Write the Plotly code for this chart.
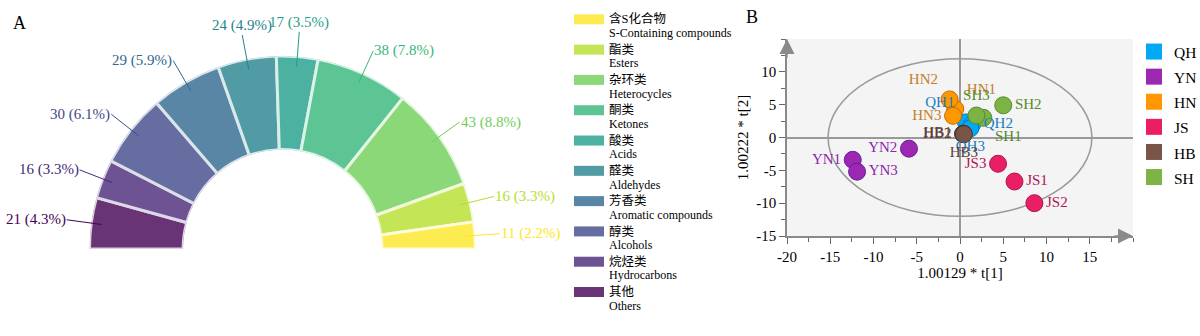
import math
import plotly.graph_objects as go

# ---------------- Panel A data (half donut) ----------------
CATEGORIES_CN = ["其他", "烷烃类", "醇类", "芳香类", "醛类", "酸类", "酮类", "杂环类", "酯类", "含S化合物"]
CATEGORIES_EN = ["Others", "Hydrocarbons", "Alcohols", "Aromatic compounds", "Aldehydes",
                 "Acids", "Ketones", "Heterocycles", "Esters", "S-Containing compounds"]
COUNTS = [21, 16, 30, 29, 24, 17, 38, 43, 16, 11]
COLORS_A = ['#440154', '#482878', '#3e4989', '#31688e', '#26828e',
            '#1f9e89', '#35b779', '#6ece58', '#b5de2b', '#fde725']

# ---------------- Panel B data (score plot) ----------------
GROUPS = ["QH", "YN", "HN", "JS", "HB", "SH"]
GROUP_COLORS = ['#03a9f4', '#9c27b0', '#ff9800', '#e91e63', '#795548', '#7cb342']
GROUP_EDGE = ['#0277bd', '#6a1b9a', '#c66900', '#ad1457', '#4e342e', '#558b2f']
GROUP_TEXT = ['#1a7dc0', '#8e24aa', '#c57d2a', '#ad1457', '#5d4037', '#558b2f']
SAMPLE_LABELS = ["QH1", "QH2", "QH3", "YN1", "YN2", "YN3", "HN1", "HN2", "HN3",
                 "JS1", "JS2", "JS3", "HB1", "HB2", "HB3", "SH1", "SH2", "SH3"]
T1 = [0.7, 1.4, 1.2, -12.4, -5.9, -11.9, -0.55, -1.2, -0.8,
      6.3, 8.6, 4.4, 0.4, 0.35, 0.45, 2.7, 5.0, 1.9]
T2 = [2.3, 2.0, 1.4, -3.4, -1.7, -5.2, 4.35, 5.8, 3.3,
      -6.7, -10.0, -4.0, 0.6, 0.55, 0.5, 3.0, 4.9, 3.35]
X_TICKS = [-20, -15, -10, -5, 0, 5, 10, 15]
X_TICK_TEXT = ["-20", "-15", "-10", "-5", "0", "5", "10", "15"]
Y_TICKS = [-15, -10, -5, 0, 5, 10]
Y_TICK_TEXT = ["-15", "-10", "-5", "0", "5", "10"]
ELLIPSE_A, ELLIPSE_B = 15.25, 12.0

# label placement (style)
LABEL_POS = {"QH1": "top left", "QH2": "middle right", "QH3": "bottom center",
             "YN1": "middle left", "YN2": "middle left", "YN3": "middle right",
             "HN1": "top right", "HN2": "top left", "HN3": "middle left",
             "JS1": "middle right", "JS2": "middle right", "JS3": "middle left",
             "HB1": "middle left", "HB2": "middle left", "HB3": "bottom center",
             "SH1": "bottom right", "SH2": "middle right", "SH3": "top center"}

W, H = 1200, 336
SERIF = "Liberation Serif, Times New Roman, Noto Sans CJK SC, serif"


def hex_rgb(h):
    h = h.lstrip('#')
    return tuple(int(h[i:i + 2], 16) for i in (0, 2, 4))


def blend(h, alpha):
    r, g, b = hex_rgb(h)
    return 'rgb(%d,%d,%d)' % tuple(round(c * alpha + 255 * (1 - alpha)) for c in (r, g, b))


fig = go.Figure()

# ---- half donut geometry ----
A_X0, A_X1 = 88, 477        # px extent of half disc
A_YBOT, A_YTOP = 249, 56    # px (from top)
R = (A_X1 - A_X0) / 2
CX = (A_X0 + A_X1) / 2
HOLE = 0.515

total = 2 * sum(COUNTS)
start = 180.0
mids, widths = [], []
for c in COUNTS:
    w = c / total * 360
    mids.append(start - w / 2)
    widths.append(w)
    start -= w

for i in range(len(COUNTS)):
    fig.add_trace(go.Barpolar(
        r=[1], theta=[mids[i]], width=[widths[i]], base=0,
        marker=dict(color=blend(COLORS_A[i], 0.8),
                    line=dict(color=blend(COLORS_A[i], 0.18), width=3)),
        name=CATEGORIES_EN[i], showlegend=False, subplot='polar',
        hovertext='%s %s: %d' % (CATEGORIES_CN[i], CATEGORIES_EN[i], COUNTS[i]), hoverinfo='text'))

# legend entries for panel A (wide rectangular keys), S-containing first
for i in list(range(len(COUNTS)))[::-1]:
    name = ('<span style="font-size:12.5px">%s</span><br>'
            '<span style="font-size:12px">%s</span>') % (CATEGORIES_CN[i], CATEGORIES_EN[i])
    fig.add_trace(go.Scatter(
        x=[None], y=[None], mode='lines', name=name, legend='legend',
        line=dict(color=blend(COLORS_A[i], 0.8), width=10)))

annotations = []
for i, c in enumerate(COUNTS):
    th = math.radians(mids[i])
    r_tip, r_txt = 0.94 * R, 1.12 * R
    tip_x = CX + r_tip * math.cos(th)
    tip_y = (H - A_YBOT) + r_tip * math.sin(th)
    ax = (r_txt - r_tip) * math.cos(th)
    ay = -(r_txt - r_tip) * math.sin(th)
    if mids[i] > 105:
        xa, ya = 'right', 'middle'
    elif mids[i] < 75:
        xa, ya = 'left', 'middle'
    else:
        xa, ya = 'center', 'bottom'
    pct = c / total * 100
    annotations.append(dict(
        xref='paper', yref='paper', x=tip_x / W, y=tip_y / H,
        ax=ax, ay=ay, axref='pixel', ayref='pixel',
        text='%d (%.1f%%)' % (c, pct), showarrow=True, arrowhead=0,
        arrowwidth=1, arrowcolor=COLORS_A[i], xanchor=xa, yanchor=ya,
        font=dict(family=SERIF, size=15, color=COLORS_A[i]), borderpad=0))

# ---- panel B scatter: markers first, labels on top ----
group_idx = [[k for k, s in enumerate(SAMPLE_LABELS) if s.startswith(g)] for g in GROUPS]
for gi, g in enumerate(GROUPS):
    idx = group_idx[gi]
    fig.add_trace(go.Scatter(
        x=[T1[k] for k in idx], y=[T2[k] for k in idx], mode='markers',
        marker=dict(size=17, color=GROUP_COLORS[gi], line=dict(color=GROUP_EDGE[gi], width=1)),
        showlegend=False, cliponaxis=False, hovertext=[SAMPLE_LABELS[k] for k in idx],
        hoverinfo='text'))
for gi, g in enumerate(GROUPS):
    idx = group_idx[gi]
    fig.add_trace(go.Scatter(
        x=[T1[k] for k in idx], y=[T2[k] for k in idx],
        text=[SAMPLE_LABELS[k] for k in idx],
        textposition=[LABEL_POS[SAMPLE_LABELS[k]] for k in idx],
        mode='markers+text',
        marker=dict(size=17, color='rgba(0,0,0,0)', line=dict(width=0)),
        textfont=dict(family=SERIF, size=15, color=GROUP_TEXT[gi]),
        showlegend=False, cliponaxis=False, hoverinfo='skip'))

for gi, g in enumerate(GROUPS):
    fig.add_trace(go.Scatter(
        x=[None], y=[None], mode='markers', name='<span style="font-size:15.5px">%s</span>' % g,
        legend='legend2', marker=dict(symbol='square', size=20, color=GROUP_COLORS[gi])))

# ellipse
fig.add_shape(type='circle', xref='x', yref='y', x0=-ELLIPSE_A, x1=ELLIPSE_A,
              y0=-ELLIPSE_B, y1=ELLIPSE_B, line=dict(color='#9a9a9a', width=1.5), layer='below')

AX_COL = '#8a8a8a'
# axis arrows
annotations.append(dict(xref='x', yref='y', x=-20, y=15, ax=0, ay=20, text='', showarrow=True,
                        arrowhead=2, arrowsize=2, arrowwidth=1.5, arrowcolor=AX_COL))
annotations.append(dict(xref='x', yref='y', x=20, y=-15, ax=-20, ay=0, text='', showarrow=True,
                        arrowhead=2, arrowsize=2, arrowwidth=1.5, arrowcolor=AX_COL))
# panel letters
annotations.append(dict(xref='paper', yref='paper', x=11 / W, y=1 - 11 / H, text='A', showarrow=False,
                        xanchor='left', yanchor='top', font=dict(family=SERIF, size=18, color='black')))
annotations.append(dict(xref='paper', yref='paper', x=744 / W, y=1 - 5 / H, text='B', showarrow=False,
                        xanchor='left', yanchor='top', font=dict(family=SERIF, size=18, color='black')))

B_X0, B_X1, B_Y0, B_Y1 = 787, 1133, 39, 236
axis_common = dict(showgrid=False, zeroline=True, zerolinecolor='#999999', zerolinewidth=1.5,
                   showline=True, linecolor=AX_COL, linewidth=1.5, ticks='outside', ticklen=6,
                   tickcolor='#666666', tickwidth=1, tickfont=dict(family=SERIF, size=15, color='black'),
                   minor=dict(dtick=2.5, tick0=0, ticks='outside', ticklen=4, tickcolor='#666666', showgrid=False))

fig.update_layout(
    width=W, height=H, margin=dict(l=0, r=0, t=0, b=0, autoexpand=False),
    paper_bgcolor='white', plot_bgcolor='#f4f4f4',
    font=dict(family=SERIF, color='black'),
    polar=dict(domain=dict(x=[A_X0 / W, A_X1 / W], y=[(H - A_YBOT) / H, (H - A_YTOP) / H]),
               sector=[0, 180], hole=HOLE, bgcolor='rgba(0,0,0,0)',
               radialaxis=dict(visible=False, range=[0, 1]),
               angularaxis=dict(visible=False, direction='counterclockwise', rotation=0)),
    xaxis=dict(domain=[B_X0 / W, B_X1 / W], range=[-20, 20], tickmode='array',
               tickvals=X_TICKS, ticktext=X_TICK_TEXT,
               title=dict(text='1.00129 * t[1]', font=dict(family=SERIF, size=15), standoff=2),
               anchor='y', automargin=False, **axis_common),
    yaxis=dict(domain=[(H - B_Y1) / H, (H - B_Y0) / H], range=[-15, 15], tickmode='array',
               tickvals=Y_TICKS, ticktext=Y_TICK_TEXT,
               title=dict(text='1.00222 * t[2]', font=dict(family=SERIF, size=15), standoff=4),
               anchor='x', automargin=False, **axis_common),
    legend=dict(x=569 / W, y=1 - 6 / H, xanchor='left', yanchor='top', valign='top',
                font=dict(family=SERIF, size=10.5, color='black'), bgcolor='rgba(0,0,0,0)',
                traceorder='normal'),
    legend2=dict(x=1134 / W, y=1 - 34 / H, xanchor='left', yanchor='top',
                 font=dict(family=SERIF, size=17, color='black'), bgcolor='rgba(0,0,0,0)'),
    annotations=annotations,
)

fig.write_html("out.html")
